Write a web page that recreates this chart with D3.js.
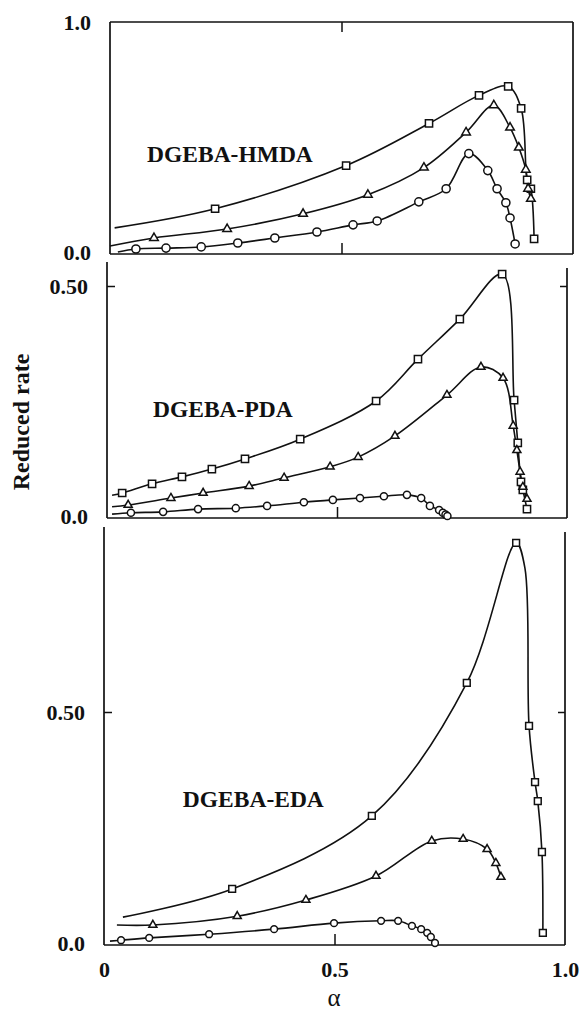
<!DOCTYPE html>
<html>
<head>
<meta charset="utf-8">
<script src="https://cdn.jsdelivr.net/npm/d3@7"></script>
<style>
    body { margin: 0; background: #fff; }
    svg text { font-family: "Liberation Serif", "Times New Roman", serif; fill: #111; }
</style>
</head>
<body>
<svg id="chart" width="585" height="1015"></svg>
<script>
/**
 * Data: [alpha, reduced rate].
 */
const xTickValues = [0, 0.5, 1.0],
    xTickLabels = ['0', '0.5', '1.0'];

const panelNames = ['DGEBA-HMDA', 'DGEBA-PDA', 'DGEBA-EDA'];

const hmdaYTicks = [0, 1.0], hmdaYLabels = ['0.0', '1.0'],
    pdaYTicks = [0, 0.5], pdaYLabels = ['0.0', '0.50'],
    edaYTicks = [0, 0.5], edaYLabels = ['0.0', '0.50'];

// DGEBA-HMDA
const hmdaSquares = [[0.227, 0.188], [0.510, 0.376], [0.689, 0.559], [0.797, 0.681], [0.860, 0.720],
    [0.888, 0.624], [0.901, 0.314], [0.909, 0.275], [0.916, 0.057]];
const hmdaTriangles = [[0.095, 0.061], [0.253, 0.100], [0.417, 0.166], [0.557, 0.249], [0.678, 0.367],
    [0.769, 0.520], [0.829, 0.638], [0.864, 0.541], [0.883, 0.454], [0.898, 0.358], [0.903, 0.275], [0.909, 0.231]];
const hmdaCircles = [[0.056, 0.013], [0.121, 0.017], [0.197, 0.022], [0.276, 0.039], [0.356, 0.061],
    [0.447, 0.087], [0.525, 0.118], [0.577, 0.135], [0.667, 0.218], [0.726, 0.275], [0.775, 0.428],
    [0.816, 0.354], [0.836, 0.275], [0.855, 0.214], [0.864, 0.148], [0.875, 0.035]];

// DGEBA-PDA
const pdaSquares = [[0.033, 0.050], [0.098, 0.070], [0.163, 0.085], [0.228, 0.102], [0.300, 0.124],
    [0.420, 0.167], [0.585, 0.250], [0.676, 0.341], [0.767, 0.428], [0.859, 0.526], [0.885, 0.252],
    [0.893, 0.159], [0.900, 0.074], [0.904, 0.057], [0.913, 0.015]];
const pdaTriangles = [[0.046, 0.024], [0.139, 0.039], [0.209, 0.050], [0.309, 0.065], [0.385, 0.083],
    [0.485, 0.107], [0.546, 0.128], [0.626, 0.174], [0.739, 0.263], [0.813, 0.324], [0.861, 0.300],
    [0.883, 0.196], [0.891, 0.143], [0.898, 0.096], [0.904, 0.063], [0.913, 0.037]];
const pdaCircles = [[0.052, 0.007], [0.122, 0.009], [0.198, 0.015], [0.280, 0.017], [0.348, 0.022],
    [0.428, 0.030], [0.491, 0.035], [0.550, 0.039], [0.602, 0.043], [0.652, 0.046], [0.683, 0.039],
    [0.702, 0.022], [0.722, 0.013], [0.730, 0.007], [0.736, 0.003], [0.740, 0.0]];

// DGEBA-EDA
const edaSquares = [[0.278, 0.117], [0.581, 0.275], [0.787, 0.563], [0.894, 0.866], [0.922, 0.470],
    [0.935, 0.348], [0.941, 0.307], [0.950, 0.197], [0.952, 0.022]];
const edaTriangles = [[0.106, 0.039], [0.289, 0.058], [0.438, 0.093], [0.590, 0.145], [0.711, 0.221],
    [0.779, 0.225], [0.831, 0.203], [0.850, 0.173], [0.861, 0.143]];
const edaCircles = [[0.037, 0.006], [0.098, 0.011], [0.228, 0.019], [0.369, 0.030], [0.499, 0.043],
    [0.601, 0.048], [0.638, 0.048], [0.668, 0.037], [0.688, 0.030], [0.701, 0.022], [0.709, 0.013], [0.718, 0.0]];

// Points on the fitted curves that carry no marker (where each curve starts, kinks)
const hmdaKnots = [[[0.010, 0.105]], [[0.0, 0.026]], [[0.017, 0.0]]],
    pdaKnots = [[[0.011, 0.045]], [[0.011, 0.020]], [[0.011, 0.004]]],
    edaKnots = [[[0.041, 0.056], [0.913, 0.812]], [[0.028, 0.039]], [[0.013, 0.004]]];

/**
 * Visual configs.
 */
const ink = '#111',
    tickFont = 22,
    lineWidth = 1.6;

const markerTypes = [d3.symbolSquare, d3.symbolTriangle, d3.symbolCircle];

const panels = [
    {
        name: panelNames[0], yTicks: hmdaYTicks, yLabels: hmdaYLabels, yMarks: [],
        series: [hmdaSquares, hmdaTriangles, hmdaCircles], knots: hmdaKnots,
        left: 110, right: 573, yZero: 252, yRef: 1.0, yRefPx: 22,
        leftTop: 22, rightTop: 22, bottom: 254, frameTop: true, topTick: true,
        label: [0.08, 0.39], markerSizes: [52, 32, 52]
    },
    {
        name: panelNames[1], yTicks: pdaYTicks, yLabels: pdaYLabels, yMarks: [0.5],
        series: [pdaSquares, pdaTriangles, pdaCircles], knots: pdaKnots,
        left: 107, right: 567, yZero: 516, yRef: 0.5, yRefPx: 286,
        leftTop: 262, rightTop: 268, bottom: 518, frameTop: false, topTick: false,
        label: [0.10, 0.215], markerSizes: [52, 28, 40]
    },
    {
        name: panelNames[2], yTicks: edaYTicks, yLabels: edaYLabels, yMarks: [0.5],
        series: [edaSquares, edaTriangles, edaCircles], knots: edaKnots,
        left: 104, right: 565, yZero: 943, yRef: 0.5, yRefPx: 712,
        leftTop: 527, rightTop: 532, bottom: 945, frameTop: false, topTick: false,
        label: [0.171, 0.294], markerSizes: [46, 28, 36], xLabels: true
    }
];

/**
 * Accessors.
 */
const xVal = d => d[0],
    yVal = d => d[1];

const svg = d3.select('#chart');

panels.forEach(drawPanel);

// Shared axis titles
svg.append('text')
    .attr('transform', 'translate(29,422) rotate(-90)')
    .attr('text-anchor', 'middle')
    .attr('font-size', 24)
    .attr('font-weight', 'bold')
    .text('Reduced rate');

svg.append('text')
    .attr('x', 334)
    .attr('y', 1006)
    .attr('text-anchor', 'middle')
    .attr('font-size', 25)
    .text('α');

/**
 * Draws one stacked panel: frame, ticks, curves and markers.
 */
function drawPanel(p) {
    const x = d3.scaleLinear().domain([0, 1]).range([p.left, p.right]),
        y = d3.scaleLinear().domain([0, p.yRef]).range([p.yZero, p.yRefPx]);

    const g = svg.append('g').attr('class', 'panel');

    // Frame
    const frame = g.append('g')
        .attr('stroke', ink)
        .attr('stroke-width', 1.7)
        .attr('fill', 'none');
    frame.append('line').attr('x1', p.left).attr('x2', p.left).attr('y1', p.leftTop).attr('y2', p.bottom);
    frame.append('line').attr('x1', p.right).attr('x2', p.right).attr('y1', p.rightTop).attr('y2', p.bottom);
    frame.append('line').attr('x1', p.left).attr('x2', p.right).attr('y1', p.bottom).attr('y2', p.bottom);
    if (p.frameTop) {
        frame.append('line').attr('x1', p.left).attr('x2', p.right).attr('y1', p.leftTop).attr('y2', p.leftTop);
    }

    // Tick labels on the left
    g.append('g')
        .attr('transform', 'translate(' + p.left + ',0)')
        .call(d3.axisLeft(y).tickValues(p.yTicks).tickFormat((d, i) => p.yLabels[i]).tickSize(0).tickPadding(19))
        .call(styleAxis);

    // Inward tick marks
    if (p.yMarks.length) {
        g.append('g')
            .attr('transform', 'translate(' + p.left + ',0)')
            .call(d3.axisLeft(y).tickValues(p.yMarks).tickFormat('').tickSizeInner(-8).tickSizeOuter(0))
            .call(styleAxis);
        g.append('g')
            .attr('transform', 'translate(' + p.right + ',0)')
            .call(d3.axisRight(y).tickValues(p.yMarks).tickFormat('').tickSizeInner(-7).tickSizeOuter(0))
            .call(styleAxis);
    }

    g.append('g')
        .attr('transform', 'translate(0,' + p.bottom + ')')
        .call(d3.axisBottom(x).tickValues([0.5]).tickFormat('').tickSizeInner(-11).tickSizeOuter(0))
        .call(styleAxis);

    if (p.topTick) {
        g.append('g')
            .attr('transform', 'translate(0,' + p.leftTop + ')')
            .call(d3.axisTop(x).tickValues([0.5]).tickFormat('').tickSizeInner(-10).tickSizeOuter(0))
            .call(styleAxis);
    }

    if (p.xLabels) {
        g.append('g')
            .attr('transform', 'translate(0,' + p.bottom + ')')
            .call(d3.axisBottom(x).tickValues(xTickValues).tickFormat((d, i) => xTickLabels[i]).tickSize(0).tickPadding(16))
            .call(styleAxis);
    }

    // Panel name
    g.append('text')
        .attr('x', x(p.label[0]))
        .attr('y', y(p.label[1]))
        .attr('font-size', 23.5)
        .attr('font-weight', 'bold')
        .text(p.name);

    // Curves
    const line = d3.line()
        .x(d => x(xVal(d)))
        .y(d => y(yVal(d)))
        .curve(d3.curveCatmullRom.alpha(0.5));

    p.series.forEach((points, i) => {
        const knots = points.concat(p.knots[i]).sort((a, b) => xVal(a) - xVal(b));
        g.append('path')
            .attr('d', line(knots))
            .attr('fill', 'none')
            .attr('stroke', ink)
            .attr('stroke-width', lineWidth);
    });

    // Markers on top of the curves
    p.series.forEach((points, i) => {
        const symbol = d3.symbol().type(markerTypes[i]).size(p.markerSizes[i]);
        g.append('g').selectAll('path')
            .data(points)
            .join('path')
            .attr('transform', d => 'translate(' + x(xVal(d)) + ',' + y(yVal(d)) + ')')
            .attr('d', symbol)
            .attr('fill', '#fff')
            .attr('stroke', ink)
            .attr('stroke-width', 1.5);
    });
}

function styleAxis(selection) {
    selection.select('.domain').remove();
    selection.selectAll('.tick line').attr('stroke', ink).attr('stroke-width', 1.5);
    selection
        .attr('font-family', '"Liberation Serif", "Times New Roman", serif')
        .attr('font-size', tickFont)
        .attr('font-weight', 'bold');
    selection.selectAll('.tick text').attr('fill', ink);
}
</script>
</body>
</html>
